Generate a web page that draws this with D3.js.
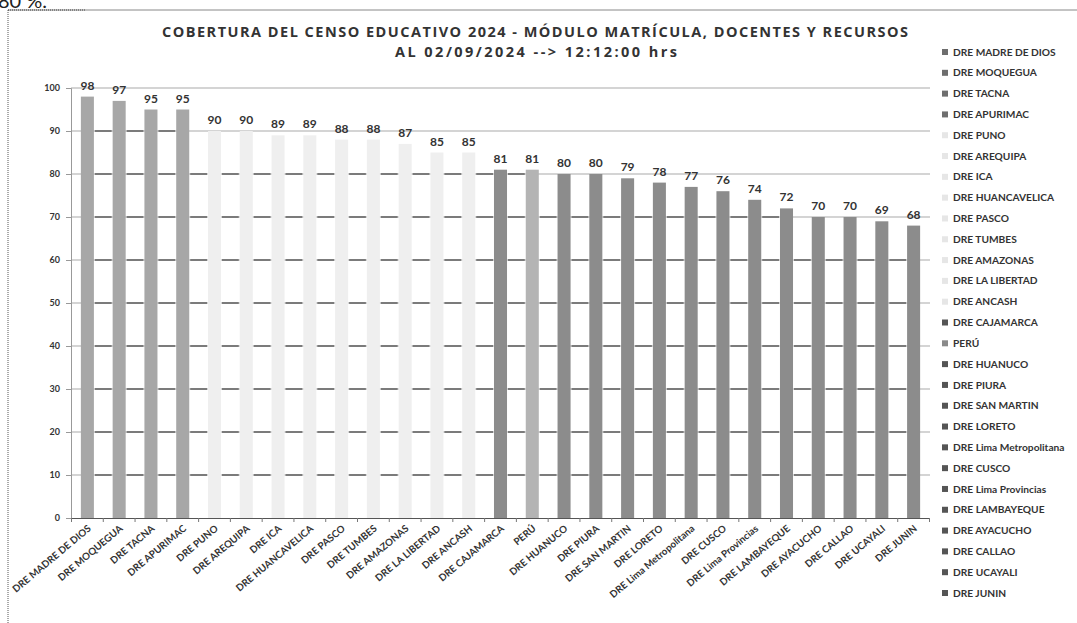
<!DOCTYPE html>
<html><head><meta charset="utf-8">
<script src="https://cdn.jsdelivr.net/npm/d3@7"></script>
<style>body{margin:0;background:#fff}svg{display:block}</style>
</head><body>
<svg id="c" width="1077" height="623"></svg>
<script>
const categories = ["DRE MADRE DE DIOS","DRE MOQUEGUA","DRE TACNA","DRE APURIMAC","DRE PUNO","DRE AREQUIPA","DRE ICA","DRE HUANCAVELICA","DRE PASCO","DRE TUMBES","DRE AMAZONAS","DRE LA LIBERTAD","DRE ANCASH","DRE CAJAMARCA","PERÚ","DRE HUANUCO","DRE PIURA","DRE SAN MARTIN","DRE LORETO","DRE Lima Metropolitana","DRE CUSCO","DRE Lima Provincias","DRE LAMBAYEQUE","DRE AYACUCHO","DRE CALLAO","DRE UCAYALI","DRE JUNIN"];
const values = [98,97,95,95,90,90,89,89,88,88,87,85,85,81,81,80,80,79,78,77,76,74,72,70,70,69,68];
const groups = ["alto","alto","alto","alto","medio","medio","medio","medio","medio","medio","medio","medio","medio","bajo","pais","bajo","bajo","bajo","bajo","bajo","bajo","bajo","bajo","bajo","bajo","bajo","bajo"];
const yTicks = [0,10,20,30,40,50,60,70,80,90,100];
const title1 = "COBERTURA DEL CENSO EDUCATIVO 2024 - MÓDULO MATRÍCULA, DOCENTES Y RECURSOS";
const title2 = "AL 02/09/2024  -->  12:12:00 hrs";

const svg = d3.select("#c");
const F = "Lato, 'Open Sans', sans-serif";
const FT = "'Open Sans', Lato, sans-serif";
const color = d3.scaleOrdinal().domain(["alto","medio","bajo","pais"]).range(["#a7a7a7","#efefef","#8c8c8c","#b4b4b4"]);
const swatch = d3.scaleOrdinal().domain(["alto","medio","bajo","pais"]).range(["#6e6e6e","#e6e6e6","#555","#8a8a8a"]);

// frame
svg.append("line").attr("x1",8).attr("x2",1077).attr("y1",10).attr("y2",10).attr("stroke","#888").attr("stroke-width",1);
svg.append("line").attr("x1",8).attr("x2",8).attr("y1",10).attr("y2",623).attr("stroke","#555").attr("stroke-dasharray","1,1");
svg.append("line").attr("x1",8).attr("x2",85).attr("y1",10).attr("y2",10).attr("stroke","#444").attr("stroke-dasharray","1,1");
svg.append("text").attr("x",-2).attr("y",8).attr("font-family",F).attr("font-size",20).attr("fill","#222").text("80 %.");

// titles
svg.append("text").attr("x",535).attr("y",37).attr("text-anchor","middle").attr("font-family",FT).attr("font-weight","bold").attr("font-size",14.5)
  .attr("textLength",746).attr("lengthAdjust","spacing").attr("fill","#333").text(title1);
svg.append("text").attr("x",536).attr("y",57).attr("text-anchor","middle").attr("font-family",FT).attr("font-weight","bold").attr("font-size",14.5)
  .attr("textLength",282).attr("lengthAdjust","spacing").attr("fill","#333").text(title2);

const x = d3.scaleBand().domain(categories).range([71.5,929.5]).paddingInner(0.59).paddingOuter(0.295);
const y = d3.scaleLinear().domain([0,100]).range([518,88]);

// gridlines gray
const g = svg.append("g");
g.selectAll("line.grid").data(yTicks.filter(d=>d>0)).join("line")
  .attr("x1",71).attr("x2",930).attr("y1",d=>y(d)).attr("y2",d=>y(d))
  .attr("stroke","#a9a9a9").attr("stroke-width",1.2);

// dark segments in gaps where both neighbours exceed the grid value
const segs = [];
yTicks.filter(d=>d>0 && d<100).forEach(v=>{
  for(let i=0;i<categories.length-1;i++){
    if(values[i]>v && values[i+1]>v){
      segs.push({v, x1:x(categories[i])+x.bandwidth()+1, x2:x(categories[i+1])-1});
    }
  }
});
g.selectAll("line.seg").data(segs).join("line")
  .attr("x1",d=>d.x1).attr("x2",d=>d.x2).attr("y1",d=>y(d.v)).attr("y2",d=>y(d.v))
  .attr("stroke","#222").attr("stroke-width",1);

// bars
svg.append("g").selectAll("rect").data(categories).join("rect")
  .attr("x",d=>x(d)).attr("width",x.bandwidth())
  .attr("y",(d,i)=>y(values[i])).attr("height",(d,i)=>y(0)-y(values[i]))
  .attr("fill",(d,i)=>color(groups[i]));

// value labels
svg.append("g").selectAll("text").data(categories).join("text")
  .attr("x",d=>x(d)+x.bandwidth()/2).attr("y",(d,i)=>y(values[i])-7)
  .attr("text-anchor","middle").attr("font-family",F).attr("font-weight","bold").attr("font-size",12).attr("fill","#333")
  .text((d,i)=>values[i]);

// y axis
const ya = svg.append("g").attr("transform","translate(71,0)")
  .call(d3.axisLeft(y).tickValues(yTicks).tickSize(5).tickPadding(6));
ya.select(".domain").attr("stroke","#999");
ya.selectAll(".tick line").attr("stroke","#999");
ya.selectAll("text").attr("font-family",F).attr("font-weight","bold").attr("font-size",9).attr("fill","#333");

// x axis
svg.append("line").attr("x1",71).attr("x2",930).attr("y1",518.5).attr("y2",518.5).attr("stroke","#555").attr("stroke-width",1);
const bounds = categories.map(d=>x(d)-(x.step()-x.bandwidth())/2).concat([929.5]);
svg.append("g").selectAll("line").data(bounds).join("line")
  .attr("x1",d=>d).attr("x2",d=>d).attr("y1",518).attr("y2",522).attr("stroke","#777");
svg.append("g").selectAll("text").data(categories).join("text")
  .attr("transform",d=>`translate(${x(d)+x.bandwidth()/2+2},${527}) rotate(-40)`)
  .attr("text-anchor","end").attr("dy","0.35em")
  .attr("font-family",F).attr("font-weight","bold").attr("font-size",9.8).attr("fill","#333")
  .text(d=>d);

// legend
const ly = d3.scalePoint().domain(categories).range([52,593]);
const lg = svg.append("g").selectAll("g").data(categories).join("g")
  .attr("transform",d=>`translate(942,${ly(d)})`);
lg.append("rect").attr("x",0).attr("y",-3).attr("width",6).attr("height",6).attr("fill",(d,i)=>swatch(groups[i]));
lg.append("text").attr("x",11).attr("dy","0.35em").attr("font-family",F).attr("font-weight","bold").attr("font-size",10.2).attr("fill","#333").text(d=>d);
</script>
</body></html>
